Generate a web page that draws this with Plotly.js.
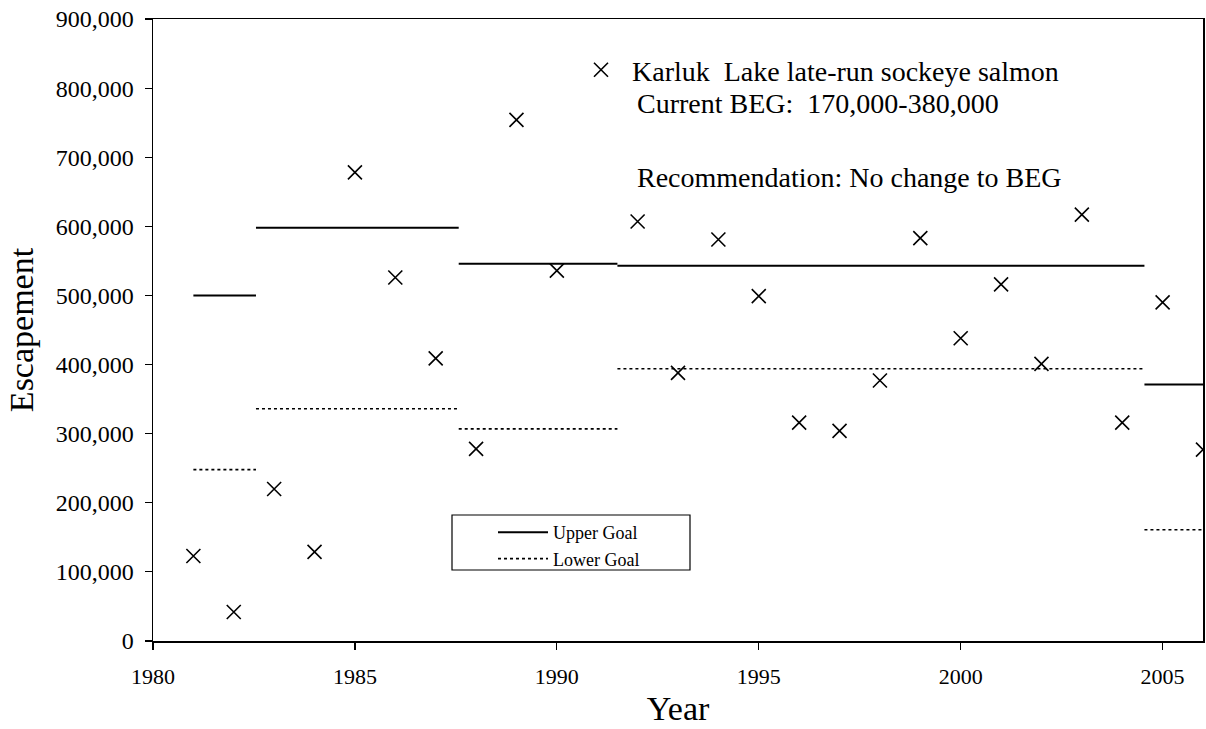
<!DOCTYPE html>
<html>
<head>
<meta charset="utf-8">
<script src="https://cdn.plot.ly/plotly-3.0.1.min.js"></script>
<style>html,body{margin:0;padding:0;background:#fff;}#chart{width:1206px;height:729px;}</style>
</head>
<body>
<div id="chart"></div>
<script>
// Observed escapement (Karluk Lake late-run sockeye salmon)
var years = [1981, 1982, 1983, 1984, 1985, 1986, 1987, 1988, 1989, 1990,
             1992, 1993, 1994, 1995, 1996, 1997, 1998, 1999, 2000, 2001,
             2002, 2003, 2004, 2005, 2006];
var escapement = [123000, 42000, 220000, 129000, 678000, 526000, 409000, 278000, 754000, 536000,
                  607000, 388000, 581000, 499000, 316000, 304000, 377000, 583000, 438000, 516000,
                  401000, 617000, 316000, 490000, 277000];

// Goal periods
var goalStart = [1981, 1982.55, 1987.57, 1991.5, 2004.55];
var goalEnd   = [1982.55, 1987.57, 1991.5, 2004.55, 2006.5];
var upperGoal = [500000, 598000, 546000, 543000, 371000];
var lowerGoal = [248000, 336000, 307000, 394000, 161000];

var xTicks = [1980, 1985, 1990, 1995, 2000, 2005];
var yTicks = [0, 100000, 200000, 300000, 400000, 500000, 600000, 700000, 800000, 900000];

function segs(vals) {
  var xs = [], ys = [];
  for (var i = 0; i < vals.length; i++) {
    xs.push(goalStart[i], goalEnd[i], null);
    ys.push(vals[i], vals[i], null);
  }
  return {x: xs, y: ys};
}
var up = segs(upperGoal), lo = segs(lowerGoal);

var serif = 'Liberation Serif, Times New Roman, serif';
function px2x(p) { return (p - 153) / 1050; }
function px2y(p) { return (641 - p) / 622; }

var traces = [
  {x: up.x, y: up.y, type: 'scatter', mode: 'lines', name: 'Upper Goal',
   line: {color: '#000', width: 2}, legend: 'legend', connectgaps: false},
  {x: lo.x, y: lo.y, type: 'scatter', mode: 'lines', name: 'Lower Goal',
   line: {color: '#000', width: 1.6, dash: 'dot'}, legend: 'legend', connectgaps: false},
  {x: years, y: escapement, type: 'scatter', mode: 'markers',
   name: 'Karluk\u00a0\u00a0Lake late-run sockeye salmon',
   marker: {symbol: 'x-thin-open', size: 14, color: '#000', line: {color: '#000', width: 1.6}},
   legend: 'legend2'}
];

var layout = {
  width: 1206, height: 729,
  margin: {l: 153, r: 3, t: 19, b: 88},
  paper_bgcolor: '#fff', plot_bgcolor: '#fff',
  font: {family: serif, color: '#000'},
  showlegend: true,
  xaxis: {
    range: [1980, 2006], tickvals: xTicks, ticks: 'outside', ticklen: 7, tickwidth: 1.2,
    tickcolor: '#000', showline: true, linecolor: '#000', linewidth: 1.5, mirror: true,
    showgrid: false, zeroline: false, ticklabelstandoff: 8,
    tickfont: {family: serif, size: 22, color: '#000'},
    title: {text: 'Year', font: {family: serif, size: 34, color: '#000'}, standoff: 8}
  },
  yaxis: {
    range: [0, 900000], tickvals: yTicks, tickformat: ',d', ticks: 'outside', ticklen: 7,
    tickwidth: 1.2, tickcolor: '#000', showline: true, linecolor: '#000', linewidth: 1.5,
    mirror: true, showgrid: false, zeroline: false, ticklabelstandoff: 6,
    tickfont: {family: serif, size: 24, color: '#000'},
    title: {text: 'Escapement', font: {family: serif, size: 34, color: '#000'}, standoff: 12}
  },
  separators: '.,',
  legend: {
    x: px2x(493), y: px2y(514), xanchor: 'left', yanchor: 'top',
    bgcolor: 'rgba(0,0,0,0)', borderwidth: 0,
    font: {family: serif, size: 18, color: '#000'},
    itemwidth: 50, tracegroupgap: 0
  },
  legend2: {
    x: px2x(570), y: px2y(70), xanchor: 'left', yanchor: 'middle',
    bgcolor: 'rgba(0,0,0,0)', borderwidth: 0, itemwidth: 52,
    font: {family: serif, size: 28, color: '#000'}
  },
  shapes: [
    {type: 'rect', xref: 'paper', yref: 'paper', layer: 'above',
     x0: px2x(452), x1: px2x(690), y0: px2y(570), y1: px2y(515),
     line: {color: '#000', width: 1.2}, fillcolor: 'rgba(0,0,0,0)'}
  ],
  annotations: [
    {xref: 'paper', yref: 'paper', x: px2x(635), y: px2y(104),
     xanchor: 'left', yanchor: 'middle', showarrow: false,
     text: 'Current BEG:\u00a0\u00a0170,000-380,000', font: {family: serif, size: 28, color: '#000'}},
    {xref: 'paper', yref: 'paper', x: px2x(635), y: px2y(177),
     xanchor: 'left', yanchor: 'middle', showarrow: false,
     text: 'Recommendation: No change to BEG', font: {family: serif, size: 28, color: '#000'}}
  ]
};

Plotly.newPlot('chart', traces, layout, {displayModeBar: false, staticPlot: true});
</script>
</body>
</html>
